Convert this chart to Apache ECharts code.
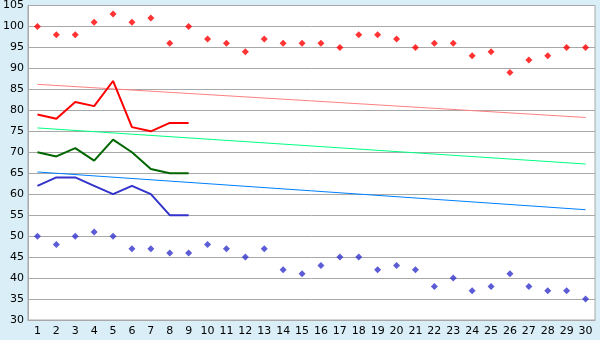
<!DOCTYPE html>
<html><head><meta charset="utf-8">
<script src="https://cdn.jsdelivr.net/npm/echarts@6/dist/echarts.min.js"></script>
<style>html,body{margin:0;padding:0;background:#D9EEF6;}#c{width:600px;height:340px;}</style>
</head><body><div id="c"></div>
<script>
var days = ['1','2','3','4','5','6','7','8','9','10','11','12','13','14','15','16','17','18','19','20','21','22','23','24','25','26','27','28','29','30'];
var highPts = [100,98,98,101,103,101,102,96,100,97,96,94,97,96,96,96,95,98,98,97,95,96,96,93,94,89,92,93,95,95];
var lowPts = [50,48,50,51,50,47,47,46,46,48,47,45,47,42,41,43,45,45,42,43,42,38,40,37,38,41,38,37,37,35];
var redLine = [79,78,82,81,87,76,75,77,77];
var greenLine = [70,69,71,68,73,70,66,65,65];
var blueLine = [62,64,64,62,60,62,60,55,55];
var trendHigh = [86.2, 78.3];
var trendMid = [75.8, 67.2];
var trendLow = [65.3, 56.3];
var yTicks = [30,35,40,45,50,55,60,65,70,75,80,85,90,95,100,105];

function trend(a){ return [[0, a[0]], [days.length-1, a[1]]]; }

var chart = echarts.init(document.getElementById('c'));
chart.setOption({
  animation:false,
  backgroundColor:'#D9EEF6',
  grid:{left:27,right:5,top:5,bottom:20,show:true,backgroundColor:'#FFFFFF',borderColor:'#A8A8A8',borderWidth:1},
  xAxis:{type:'category',data:days,boundaryGap:true,
    axisLine:{lineStyle:{color:'#A8A8A8'}},
    axisTick:{alignWithLabel:true,length:5,lineStyle:{color:'#000'}},
    axisLabel:{color:'#000',fontFamily:'DejaVu Sans',fontSize:11,margin:6,interval:0},
    splitLine:{show:false}},
  yAxis:{type:'value',min:yTicks[0],max:yTicks[yTicks.length-1],interval:5,
    axisLine:{show:true,lineStyle:{color:'#A8A8A8'}},
    axisTick:{show:false},
    axisLabel:{color:'#000',fontFamily:'DejaVu Sans',fontSize:11,margin:4},
    splitLine:{lineStyle:{color:'#A8A8A8',width:1}}},
  series:[
    {type:'line',data:trend(trendHigh),symbol:'none',lineStyle:{color:'#FF8080',width:1}},
    {type:'line',data:trend(trendMid),symbol:'none',lineStyle:{color:'#00FF80',width:1}},
    {type:'line',data:trend(trendLow),symbol:'none',lineStyle:{color:'#0080FF',width:1}},
    {type:'line',data:redLine,symbol:'none',lineStyle:{color:'#FF0000',width:2}},
    {type:'line',data:greenLine,symbol:'none',lineStyle:{color:'#006600',width:2}},
    {type:'line',data:blueLine,symbol:'none',lineStyle:{color:'#3333CC',width:2}},
    {type:'scatter',data:highPts,symbol:'diamond',symbolSize:7,itemStyle:{color:'#FF0000'}},
    {type:'scatter',data:lowPts,symbol:'diamond',symbolSize:7,itemStyle:{color:'#3333CC'}}
  ]
});
</script></body></html>
